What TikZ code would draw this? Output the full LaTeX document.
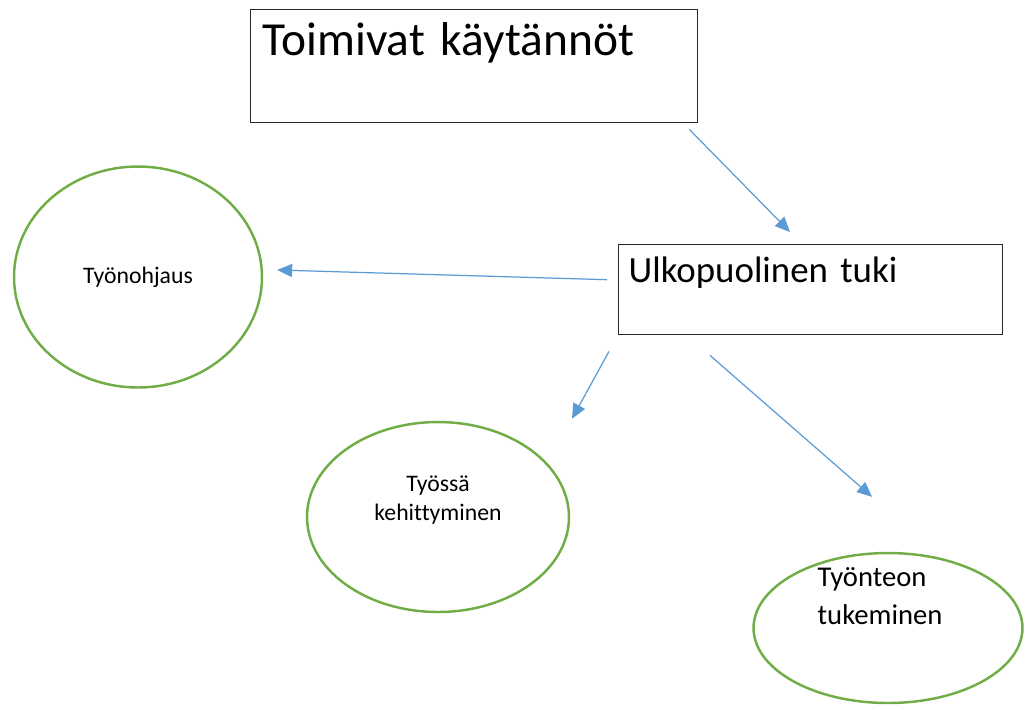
\documentclass[tikz,border=0pt]{standalone}
\usepackage{fontspec}
\setmainfont{Carlito}[Ligatures=NoCommon]
\usetikzlibrary{arrows.meta, shapes.geometric}
\definecolor{linkblue}{RGB}{91,155,213}
\definecolor{ringgreen}{RGB}{112,173,71}
\definecolor{boxgray}{RGB}{40,40,40}

\begin{document}
\begin{tikzpicture}[
  x=0.02cm, y=-0.02cm,
  tbox/.style={draw=boxgray, line width=0.8pt, anchor=north west,
               align=left, inner ysep=0pt},
  ring/.style={ellipse, draw=ringgreen, line width=1.4pt, align=center,
               inner sep=0pt},
  arr/.style={-{Triangle[length=8.5pt, width=7.5pt]}, draw=linkblue,
              line width=0.7pt}
]
  \useasboundingbox (0,0) rectangle (1026,704);

  % boxes
  \node[tbox, text width=8.46cm, inner xsep=0.24cm, text height=0.92cm,
        text depth=1.34cm, font=\fontsize{27}{32}\selectfont]
        (toim) at (250,9) {Toimivat käytännöt};
  \node[tbox, text width=7.28cm, inner xsep=0.2cm, text height=0.76cm,
        text depth=1.04cm, font=\fontsize{21}{25}\selectfont]
        (ulko) at (618,244) {Ulkopuolinen tuki};

  % ellipses
  \node[ring, minimum width=4.96cm, minimum height=4.42cm,
        font=\fontsize{13.5}{17}\selectfont] (ohj) at (138,277) {Työnohjaus};
  \node[ring, minimum width=5.24cm, minimum height=3.8cm,
        label={[align=center, yshift=0.34cm, font=\fontsize{13.5}{17}\selectfont]center:Työssä\\kehittyminen}]
        (kehi) at (438,517) {};
  \node[ring, minimum width=5.38cm, minimum height=3.0cm,
        label={[align=left, xshift=-0.16cm, yshift=0.64cm, font=\fontsize{16.3}{21.6}\selectfont]center:Työnteon\\tukeminen}]
        (tuk) at (888,628) {};

  % arrows
  \draw[arr] ([shift={(-9,6)}]toim.south east) -- ([shift={(172,-12)}]ulko.north west);
  \draw[arr] ([shift={(-11,-10)}]ulko.west) -- ([shift={(14,-7)}]ohj.east);
  \draw[arr] ([shift={(-9,16)}]ulko.south west) -- ([shift={(134,-2)}]kehi.north);
  \draw[arr] ([shift={(92,20)}]ulko.south west) -- ([shift={(-16,-55)}]tuk.north);
\end{tikzpicture}
\end{document}
